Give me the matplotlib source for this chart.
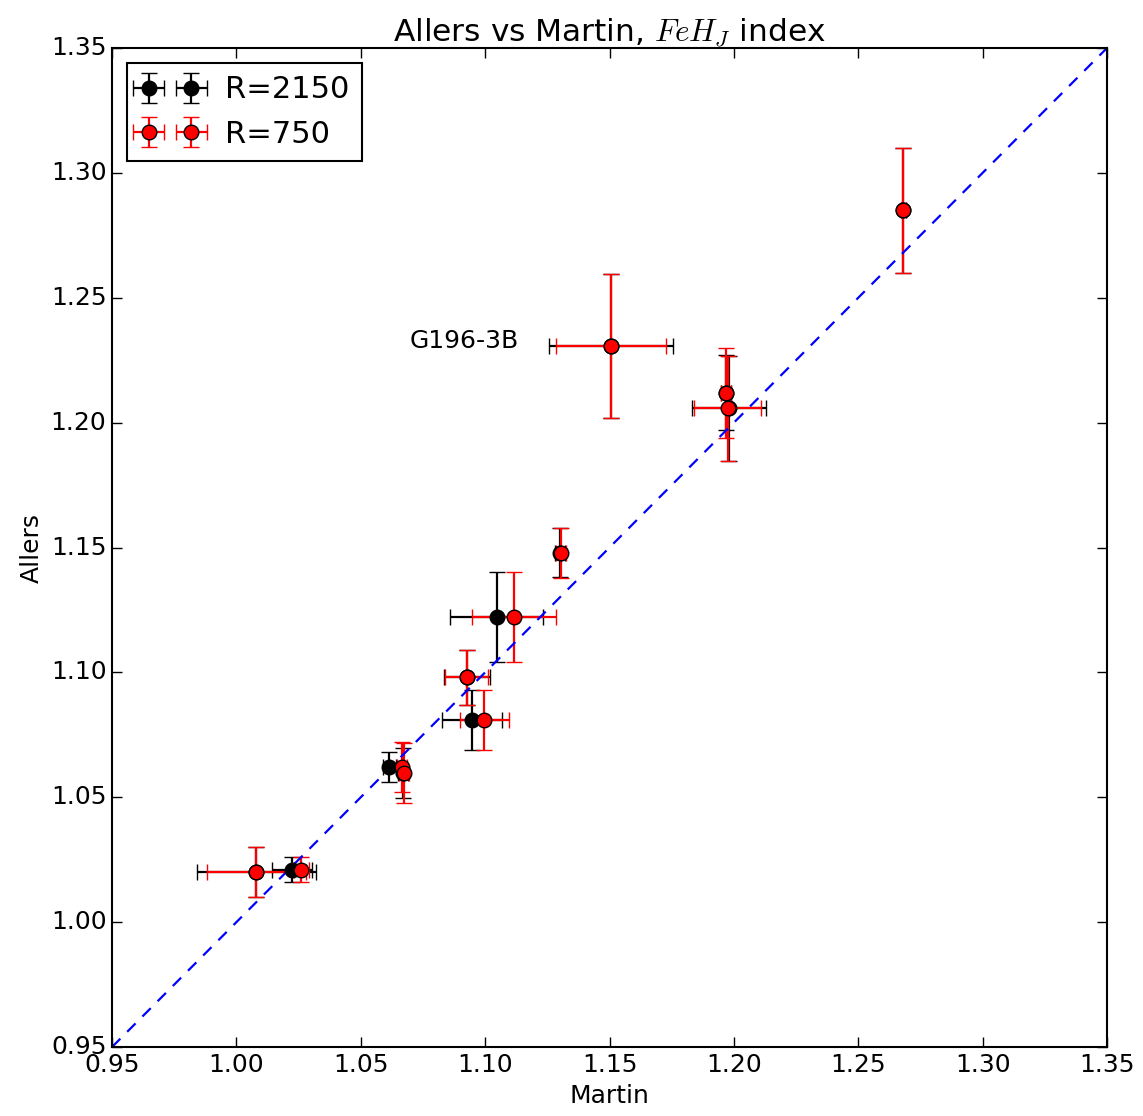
import numpy as np
import matplotlib.pyplot as plt

plt.style.use("classic")

# R=2150 measurements (Martin index, Allers index, errors)
martin_2150 = [1.008, 1.0225, 1.0615, 1.067, 1.0926, 1.0946, 1.1047, 1.130, 1.1506, 1.197, 1.198, 1.268]
allers_2150 = [1.020, 1.021, 1.062, 1.0596, 1.098, 1.081, 1.122, 1.148, 1.2307, 1.212, 1.2057, 1.285]
martin_err_2150 = [0.024, 0.008, 0.0025, 0.002, 0.0093, 0.012, 0.0187, 0.002, 0.025, 0.002, 0.015, 0.001]
allers_err_2150 = [0.010, 0.005, 0.006, 0.010, 0.011, 0.012, 0.018, 0.010, 0.029, 0.015, 0.021, 0.025]

# R=750 measurements
martin_750 = [1.008, 1.026, 1.0665, 1.0675, 1.0926, 1.0997, 1.1116, 1.1305, 1.1506, 1.197, 1.1975, 1.268]
allers_750 = [1.020, 1.021, 1.062, 1.0596, 1.098, 1.081, 1.122, 1.1478, 1.2307, 1.212, 1.2057, 1.285]
martin_err_750 = [0.020, 0.003, 0.002, 0.002, 0.0086, 0.010, 0.017, 0.002, 0.022, 0.002, 0.0134, 0.001]
allers_err_750 = [0.010, 0.005, 0.010, 0.012, 0.011, 0.012, 0.018, 0.010, 0.029, 0.018, 0.021, 0.025]

label_name = "G196-3B"
label_pos = (1.0698, 1.2327)

lims = [0.95, 1.35]
ticks = np.arange(0.95, 1.3501, 0.05)

fig = plt.figure(figsize=(11.43, 11.16), dpi=100, facecolor="white")
ax = fig.add_axes([0.098, 0.0618, 0.8705, 0.8952])

style = dict(fmt="o", ms=10.5, mec="k", mew=1, capsize=6, elinewidth=1.6, capthick=1.6)
ax.errorbar(martin_2150, allers_2150, xerr=martin_err_2150, yerr=allers_err_2150,
            color="k", ecolor="k", mfc="k", label="R=2150", **style)
ax.errorbar(martin_750, allers_750, xerr=martin_err_750, yerr=allers_err_750,
            color="r", ecolor="r", mfc="r", label="R=750", **style)

ax.plot(lims, lims, color="b", ls="--", lw=1.6, dashes=(8.5, 7))

ax.text(label_pos[0], label_pos[1], label_name, fontsize=18, ha="left", va="center")

ax.set_xlim(lims)
ax.set_ylim(lims)
ax.set_xticks(ticks)
ax.set_yticks(ticks)
ax.set_xticklabels([f"{t:.2f}" for t in ticks])
ax.set_yticklabels([f"{t:.2f}" for t in ticks])
ax.tick_params(labelsize=18, length=7, width=1, direction="in", top=True, right=True)
for s in ax.spines.values():
    s.set_linewidth(1.5)

ax.set_xlabel("Martin", fontsize=18)
ax.set_ylabel("Allers", fontsize=18)
ax.set_title(r"Allers vs Martin, $FeH_J$ index", fontsize=22.5)

leg = ax.legend(loc="upper left", numpoints=2, fontsize=22, fancybox=False)
leg.get_frame().set_linewidth(1.5)

plt.savefig("out.png", dpi=100, facecolor="white")
